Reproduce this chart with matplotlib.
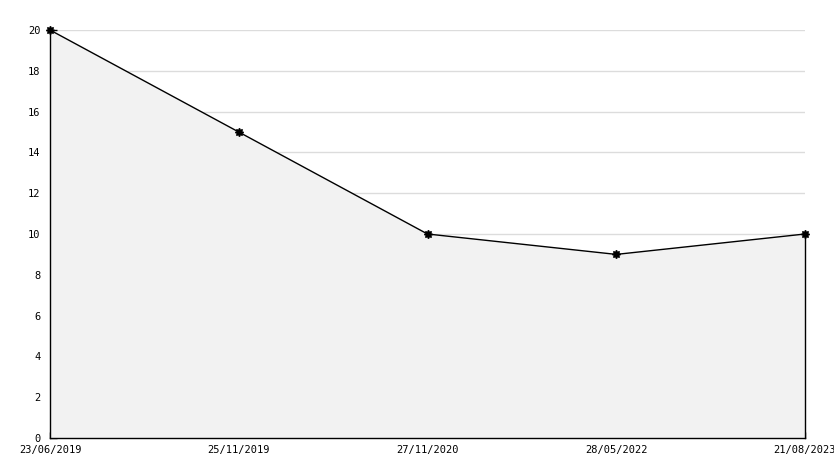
import matplotlib
matplotlib.use("Agg")
import matplotlib.pyplot as plt
from matplotlib.ticker import MultipleLocator

# dados
datas = ["23/06/2019", "25/11/2019", "27/11/2020", "28/05/2022", "21/08/2023"]
valores = [20, 15, 10, 9, 10]

fig = plt.figure(figsize=(8.34, 4.68), dpi=100)
ax = fig.add_axes([50 / 834, 1 - 438 / 468, 755 / 834, 408 / 468])

x = list(range(len(datas)))
ax.fill_between(x, valores, 0, facecolor="#f2f2f2", edgecolor="none", zorder=1)
ax.plot([x[-1], x[-1]], [0, valores[-1]], color="black", lw=1, zorder=2, clip_on=False)
ax.plot(x, valores, color="black", lw=1, marker=(8, 1, 0), ms=6, zorder=3, clip_on=False)

ax.set_xlim(0, len(datas) - 1)
ax.set_ylim(0, 20)
ax.set_xticks(x)
ax.set_xticklabels(datas)
ax.yaxis.set_major_locator(MultipleLocator(2))
ax.yaxis.set_minor_locator(MultipleLocator(1))
ax.grid(axis="y", which="major", color="#dcdcdc", lw=1, zorder=0)
ax.set_axisbelow(True)

for s in ["top", "right"]:
    ax.spines[s].set_visible(False)
for s in ["left", "bottom"]:
    ax.spines[s].set_color("black")
    ax.spines[s].set_linewidth(1)

ax.tick_params(axis="y", which="major", direction="in", length=5, width=1, pad=7)
ax.tick_params(axis="y", which="minor", direction="in", length=3, width=1)
ax.tick_params(axis="x", direction="in", length=4, width=1, pad=5)
for lab in ax.get_xticklabels() + ax.get_yticklabels():
    lab.set_fontfamily("DejaVu Sans Mono")
    lab.set_fontsize(7.5)

fig.savefig("out.png", dpi=100)
